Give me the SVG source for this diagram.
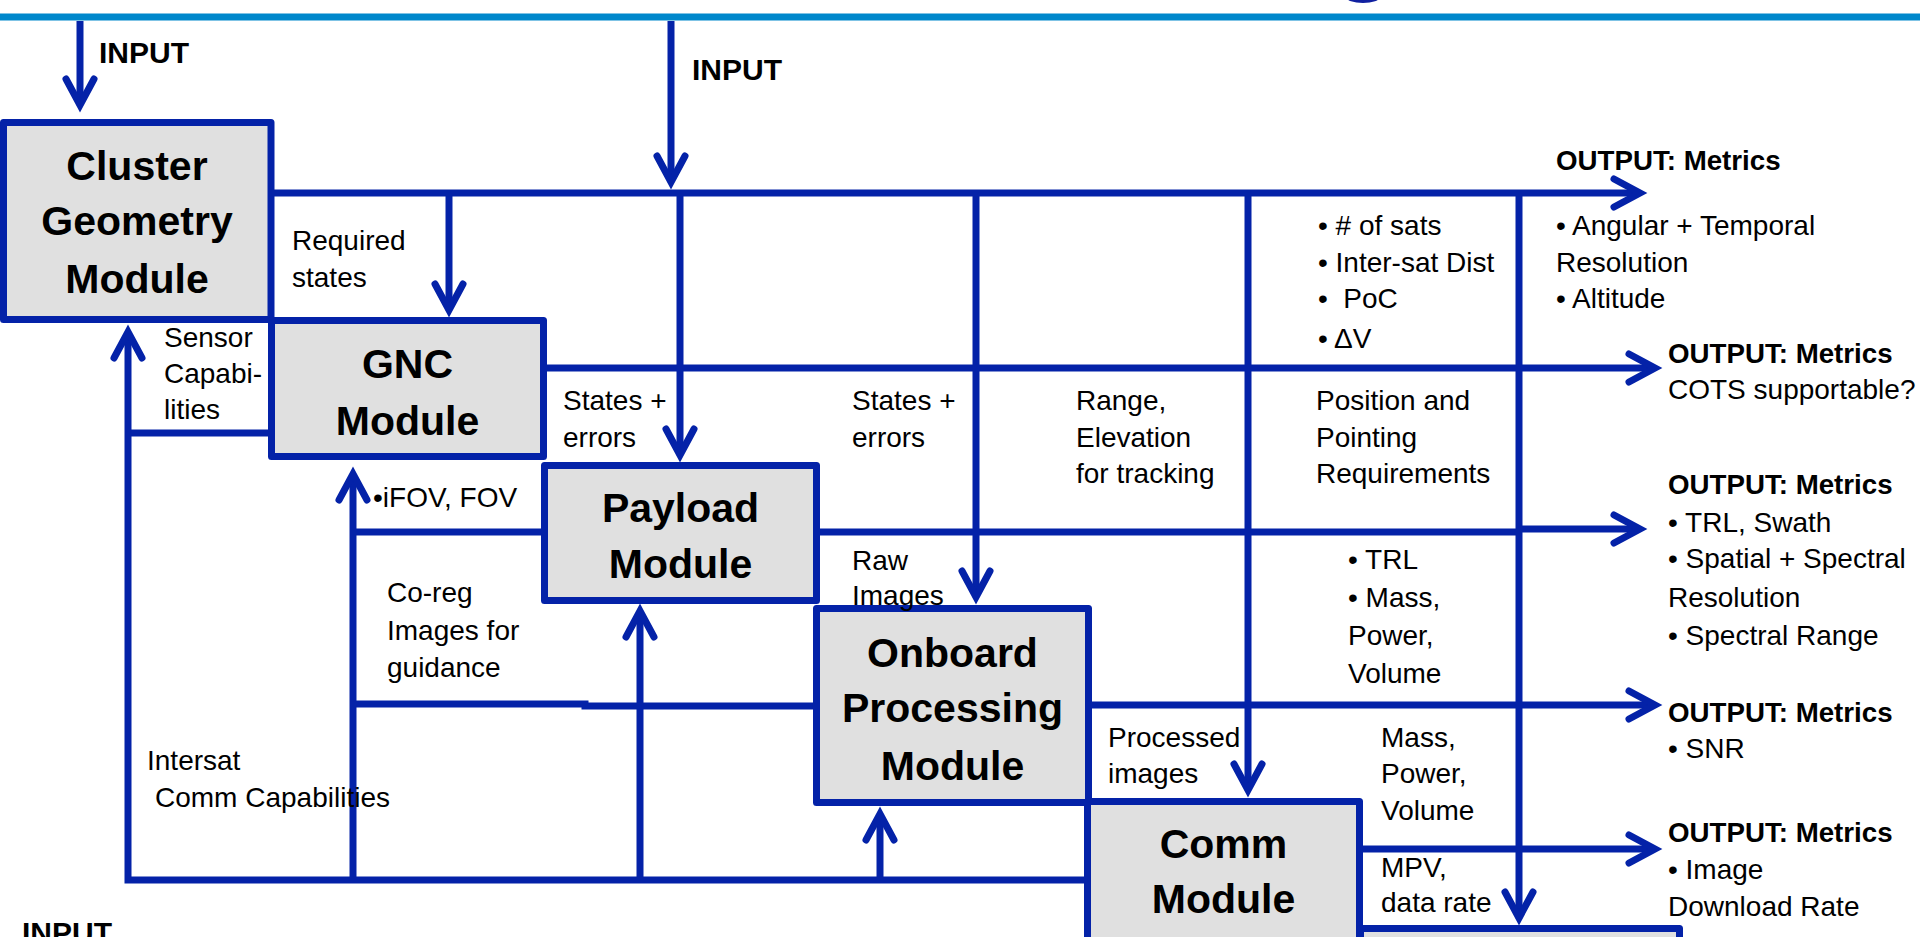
<svg xmlns="http://www.w3.org/2000/svg" width="1920" height="937" viewBox="0 0 1920 937">
<defs>
<style>
.box{fill:#E0E0E0;stroke:#0422A8;stroke-width:7;stroke-linejoin:round}
.c{fill:none;stroke:#0422A8;stroke-width:7;stroke-linejoin:miter}
.t{font-family:"Liberation Sans",Arial,sans-serif;font-size:28px;fill:#000}
.b{font-family:"Liberation Sans",Arial,sans-serif;font-weight:bold;fill:#000}
.bt{font-size:41px;text-anchor:middle}
.out{font-size:27.7px}
.inp{font-size:30px}
</style>
<marker id="ah" markerUnits="userSpaceOnUse" viewBox="-40 -22 46 44" refX="0" refY="0" markerWidth="46" markerHeight="44" orient="auto" overflow="visible">
<path d="M-26,-14 L0,0 L-26,14" fill="none" stroke="#0422A8" stroke-width="7" stroke-linecap="round" stroke-linejoin="miter"/>
</marker>
</defs>
<rect width="1920" height="937" fill="#FFFFFF"/>
<ellipse cx="1363" cy="-3" rx="17" ry="6" fill="#1020A0"/>
<line x1="0" y1="17" x2="1920" y2="17" stroke="#0088CC" stroke-width="7"/>

<g id="connectors">
<path class="c" d="M80,21 V105" marker-end="url(#ah)"/>
<path class="c" d="M671,21 V182" marker-end="url(#ah)"/>
<path class="c" d="M271,193 H1640" marker-end="url(#ah)"/>
<path class="c" d="M449,193 V310" marker-end="url(#ah)"/>
<path class="c" d="M680,193 V455" marker-end="url(#ah)"/>
<path class="c" d="M976,193 V597" marker-end="url(#ah)"/>
<path class="c" d="M1248,193 V790" marker-end="url(#ah)"/>
<path class="c" d="M1519,193 V918" marker-end="url(#ah)"/>
<path class="c" d="M547,368 H1655" marker-end="url(#ah)"/>
<path class="c" d="M820,532 H1519"/>
<path class="c" d="M1519,529 H1640" marker-end="url(#ah)"/>
<path class="c" d="M1092,705 H1655" marker-end="url(#ah)"/>
<path class="c" d="M1363,849 H1655" marker-end="url(#ah)"/>
<path class="c" d="M1084,880 H128 V332" marker-end="url(#ah)"/>
<path class="c" d="M268,433 H128"/>
<path class="c" d="M541,532 H353"/>
<path class="c" d="M813,706 H585 V704 H353"/>
<path class="c" d="M353,880 V474" marker-end="url(#ah)"/>
<path class="c" d="M640,880 V611" marker-end="url(#ah)"/>
<path class="c" d="M880,880 V814" marker-end="url(#ah)"/>
</g>

<g id="cluster-geometry">
<rect class="box" x="3.5" y="122.5" width="267.5" height="197"/>
<text class="b bt" x="137" y="180">Cluster</text>
<text class="b bt" x="137" y="235">Geometry</text>
<text class="b bt" x="137" y="293">Module</text>
</g>
<g id="gnc">
<rect class="box" x="271.5" y="320.5" width="272" height="136"/>
<text class="b bt" x="407.5" y="378">GNC</text>
<text class="b bt" x="407.5" y="435">Module</text>
</g>
<g id="payload">
<rect class="box" x="544.5" y="465.5" width="272" height="135"/>
<text class="b bt" x="680.5" y="522">Payload</text>
<text class="b bt" x="680.5" y="578">Module</text>
</g>
<g id="onboard-processing">
<rect class="box" x="816.5" y="608.5" width="272" height="194"/>
<text class="b bt" x="952.5" y="667">Onboard</text>
<text class="b bt" x="952.5" y="722">Processing</text>
<text class="b bt" x="952.5" y="780">Module</text>
</g>
<g id="comm">
<rect class="box" x="1087.5" y="801.5" width="272" height="200"/>
<text class="b bt" x="1223.5" y="858">Comm</text>
<text class="b bt" x="1223.5" y="913">Module</text>
</g>
<g id="bottom-box">
<rect class="box" x="1360.5" y="928.5" width="319" height="100"/>
</g>

<g id="labels">
<text class="b inp" x="99" y="63">INPUT</text>
<text class="b inp" x="692" y="80">INPUT</text>
<text class="b inp" x="22" y="943">INPUT</text>

<text class="t" x="292" y="250">Required</text>
<text class="t" x="292" y="287">states</text>

<text class="t" x="164" y="347">Sensor</text>
<text class="t" x="164" y="383">Capabi-</text>
<text class="t" x="164" y="419">lities</text>

<text class="t" x="563" y="410">States +</text>
<text class="t" x="563" y="447">errors</text>
<text class="t" x="852" y="410">States +</text>
<text class="t" x="852" y="447">errors</text>

<text class="t" x="1076" y="410">Range,</text>
<text class="t" x="1076" y="447">Elevation</text>
<text class="t" x="1076" y="483">for tracking</text>

<text class="t" x="1316" y="410">Position and</text>
<text class="t" x="1316" y="447">Pointing</text>
<text class="t" x="1316" y="483">Requirements</text>

<text class="t" x="1318" y="235">• # of sats</text>
<text class="t" x="1318" y="272">• Inter-sat Dist</text>
<text class="t" x="1318" y="308" xml:space="preserve">•  PoC</text>
<text class="t" x="1318" y="348">• ΔV</text>

<text class="t" x="373" y="507">•iFOV, FOV</text>

<text class="t" x="387" y="602">Co-reg</text>
<text class="t" x="387" y="640">Images for</text>
<text class="t" x="387" y="677">guidance</text>

<text class="t" x="852" y="570">Raw</text>
<text class="t" x="852" y="605">Images</text>

<text class="t" x="1348" y="569">• TRL</text>
<text class="t" x="1348" y="607">• Mass,</text>
<text class="t" x="1348" y="645">Power,</text>
<text class="t" x="1348" y="683">Volume</text>

<text class="t" x="147" y="770">Intersat</text>
<text class="t" x="155" y="807">Comm Capabilities</text>

<text class="t" x="1108" y="747">Processed</text>
<text class="t" x="1108" y="783">images</text>

<text class="t" x="1381" y="747">Mass,</text>
<text class="t" x="1381" y="783">Power,</text>
<text class="t" x="1381" y="820">Volume</text>
<text class="t" x="1381" y="877">MPV,</text>
<text class="t" x="1381" y="912">data rate</text>

<text class="b out" x="1556" y="170">OUTPUT: Metrics</text>
<text class="t" x="1556" y="235">• Angular + Temporal</text>
<text class="t" x="1556" y="272">Resolution</text>
<text class="t" x="1556" y="308">• Altitude</text>

<text class="b out" x="1668" y="363">OUTPUT: Metrics</text>
<text class="t" x="1668" y="399">COTS supportable?</text>

<text class="b out" x="1668" y="494">OUTPUT: Metrics</text>
<text class="t" x="1668" y="532">• TRL, Swath</text>
<text class="t" x="1668" y="568">• Spatial + Spectral</text>
<text class="t" x="1668" y="607">Resolution</text>
<text class="t" x="1668" y="645">• Spectral Range</text>

<text class="b out" x="1668" y="722">OUTPUT: Metrics</text>
<text class="t" x="1668" y="758">• SNR</text>

<text class="b out" x="1668" y="842">OUTPUT: Metrics</text>
<text class="t" x="1668" y="879">• Image</text>
<text class="t" x="1668" y="916">Download Rate</text>
</g>
</svg>
